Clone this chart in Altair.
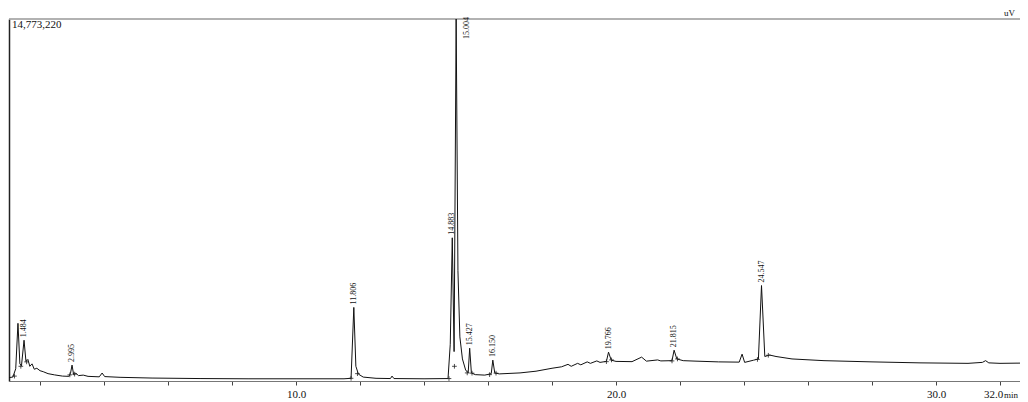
import altair as alt
import pandas as pd

# ---- chromatogram trace (time in min, intensity in uV) ----
trace_t = [1.03, 1.15, 1.24, 1.31, 1.37, 1.42, 1.50, 1.56, 1.62, 1.68, 1.75, 1.82, 1.90, 2.00,
           2.10, 2.25, 2.45, 2.70, 2.90, 2.95, 3.00, 3.05, 3.12, 3.20, 3.35, 3.50, 3.85, 3.94,
           4.02, 4.5, 5.5, 7.0, 8.5, 10.0, 11.5, 11.72, 11.806, 11.87, 11.95, 12.1, 12.5, 12.95,
           13.0, 13.06, 14.0, 14.75, 14.82, 14.883, 14.94, 15.004, 15.06, 15.12, 15.20, 15.30,
           15.38, 15.427, 15.48, 15.6, 15.9, 16.10, 16.150, 16.21, 16.35, 17.0, 17.5, 18.0, 18.3,
           18.5, 18.6, 18.8, 18.9, 19.1, 19.2, 19.4, 19.5, 19.70, 19.766, 19.85, 20.0, 20.5, 20.8,
           20.95, 21.3, 21.4, 21.75, 21.815, 21.9, 22.1, 22.5, 23.2, 23.85, 23.94, 24.02, 24.3,
           24.45, 24.547, 24.65, 24.8, 25.0, 25.5, 26.5, 28.0, 29.5, 31.0, 31.45, 31.55, 31.65,
           32.0, 32.625]
trace_v = [140000, 160000, 500000, 2354000, 700000, 620000, 1664000, 800000, 880000, 600000,
           700000, 480000, 520000, 420000, 380000, 300000, 250000, 200000, 190000, 300000,
           649000, 260000, 320000, 220000, 240000, 190000, 170000, 325000, 180000, 150000,
           120000, 100000, 90000, 90000, 90000, 110000, 3003000, 600000, 280000, 160000,
           110000, 100000, 200000, 100000, 90000, 100000, 1500000, 5844000, 1200000, 14773220,
           4500000, 1800000, 900000, 450000, 330000, 1339000, 330000, 260000, 240000, 300000,
           852000, 330000, 290000, 330000, 400000, 520000, 580000, 680000, 600000, 720000,
           660000, 780000, 720000, 820000, 760000, 800000, 1177000, 850000, 800000, 790000,
           974000, 810000, 860000, 820000, 830000, 1258000, 900000, 830000, 810000, 780000,
           770000, 1096000, 760000, 850000, 900000, 3896000, 1000000, 1060000, 1000000, 900000,
           830000, 780000, 740000, 720000, 760000, 830000, 740000, 720000, 730000]

# ---- peak labels ----
label_t = [1.50, 3.00, 11.806, 14.883, 15.427, 16.150, 19.766, 21.815, 24.547]
label_v = [1664000, 649000, 3003000, 5844000, 1339000, 852000, 1177000, 1258000, 3896000]
label_text = ["1.484", "2.995", "11.806", "14.883", "15.427", "16.150", "19.766", "21.815", "24.547"]
top_label_t = [15.33]
top_label_text = ["15.004"]

# ---- integration markers ----
mark_t = [1.20, 1.40, 1.58, 2.93, 3.08, 11.72, 11.92, 14.78, 14.95, 15.35, 15.50, 16.05, 16.25,
          19.70, 19.86, 21.75, 21.92, 24.42, 24.76]
mark_v = [200000, 600000, 780000, 250000, 280000, 110000, 300000, 100000, 600000, 330000,
          320000, 260000, 320000, 790000, 860000, 820000, 900000, 880000, 1050000]

YMAX = 14773220
TMIN, TMAX = 1.03, 32.625
W, H = 1011, 362
FONT = "Liberation Serif"

trace = pd.DataFrame({"t": trace_t, "v": trace_v})
labels = pd.DataFrame({"t": label_t, "v": label_v, "txt": label_text})
top_labels = pd.DataFrame({"t": top_label_t, "v": [YMAX], "txt": top_label_text})
marks = pd.DataFrame({"t": mark_t, "v": mark_v})

xs = alt.Scale(domain=[TMIN, TMAX], nice=False, zero=False)
ys = alt.Scale(domain=[0, YMAX], nice=False)

xaxis = alt.Axis(values=list(range(2, 33)), tickSize=4, tickColor="#444", domainColor="#777",
                 labelExpr="indexof([10,20,30,32], datum.value) >= 0 ? format(datum.value, '.1f') : ''",
                 labelFont=FONT, labelFontSize=11, labelColor="#111", labelPadding=3,
                 labelOffset={"condition": {"test": "datum.value == 32", "value": -7}, "value": 0},
                 grid=False, title=None, labelFlush=False)
yaxis = alt.Axis(labels=False, ticks=False, grid=False, title=None, domainColor="#222",
                 domainWidth=1.5)

line = alt.Chart(trace).mark_line(color="#111", strokeWidth=1, clip=True).encode(
    x=alt.X("t:Q", scale=xs, axis=xaxis),
    y=alt.Y("v:Q", scale=ys, axis=yaxis),
)

lab = alt.Chart(labels).mark_text(angle=270, align="left", baseline="middle", dx=3,
                                  font=FONT, fontSize=8, color="#111").encode(
    x=alt.X("t:Q", scale=xs), y=alt.Y("v:Q", scale=ys), text="txt:N")

toplab = alt.Chart(top_labels).mark_text(angle=270, align="right", baseline="middle", dx=2,
                                         font=FONT, fontSize=8, color="#111").encode(
    x=alt.X("t:Q", scale=xs), y=alt.Y("v:Q", scale=ys), text="txt:N")

pts = alt.Chart(marks).mark_point(shape="M-1,0L1,0M0,-1L0,1", filled=False, size=22,
                                  strokeWidth=0.8, color="#222", opacity=1).encode(
    x=alt.X("t:Q", scale=xs), y=alt.Y("v:Q", scale=ys))

topline = alt.Chart(pd.DataFrame({"a": [0]})).mark_rule(color="#999", strokeWidth=1.5).encode(
    x=alt.value(0), x2=alt.value(W), y=alt.value(0))

ytext = alt.Chart(pd.DataFrame({"s": ["14,773,220"]})).mark_text(
    align="left", baseline="middle", font=FONT, fontSize=11, color="#111").encode(
    x=alt.value(3), y=alt.value(6), text="s:N")

uvtext = alt.Chart(pd.DataFrame({"s": ["uV"]})).mark_text(
    align="right", baseline="bottom", font=FONT, fontSize=9, color="#111").encode(
    x=alt.value(W - 5), y=alt.value(-1), text="s:N")

mintext = alt.Chart(pd.DataFrame({"s": ["min"]})).mark_text(
    align="right", baseline="bottom", font=FONT, fontSize=9, color="#111").encode(
    x=alt.value(W - 2), y=alt.value(H + 19), text="s:N")

chart = alt.layer(topline, line, pts, lab, toplab, ytext, uvtext, mintext).properties(
    width=W, height=H,
    autosize=alt.AutoSizeParams(type="none"),
    padding={"left": 1, "top": 11, "right": 0, "bottom": 20},
    background="white",
).configure_view(stroke=None)

chart.save("out.html", embed_options={"renderer": "svg", "actions": False})
